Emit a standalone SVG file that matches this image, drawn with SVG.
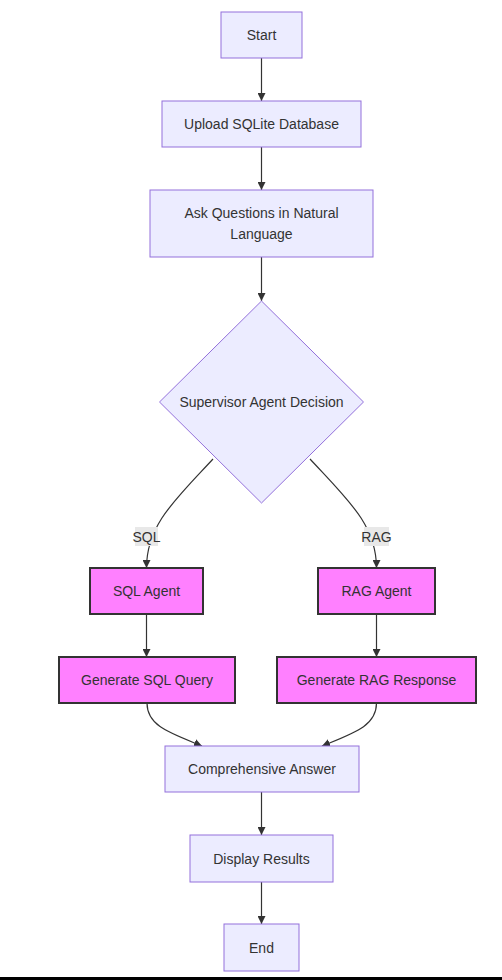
<svg xmlns="http://www.w3.org/2000/svg" width="502" height="980" viewBox="0 0 502 980">
<style>
text{font-family:"Liberation Sans",Arial,sans-serif;font-size:14px;fill:#333;text-anchor:middle;dominant-baseline:central}
.n rect,.n polygon{fill:#ECECFF;stroke:#9370DB;stroke-width:1}
.m rect{fill:#FF80FF;stroke:#333;stroke-width:2}
.e path{fill:none;stroke:#333;stroke-width:1.2}
.lbl rect{fill:#e8e8e8;stroke:none}
</style>
<defs>
<marker id="ah" viewBox="0 0 10 10" refX="10" refY="5" markerWidth="8" markerHeight="8" markerUnits="userSpaceOnUse" orient="auto">
<path d="M0,0 L10,5 L0,10 z" fill="#333"/>
</marker>
</defs>
<rect x="0" y="0" width="502" height="980" fill="#fff"/>
<g id="edges" class="e">
<path d="M261.5,58 L261.5,101" marker-end="url(#ah)"/>
<path d="M261.5,147 L261.5,190" marker-end="url(#ah)"/>
<path d="M261.5,257 L261.5,301" marker-end="url(#ah)"/>
<path d="M213,459 C175,500 146.5,525 146.5,568" marker-end="url(#ah)"/>
<path d="M310,459 C348,500 376.5,525 376.5,568" marker-end="url(#ah)"/>
<path d="M146.5,614 L146.5,657" marker-end="url(#ah)"/>
<path d="M376.5,614 L376.5,657" marker-end="url(#ah)"/>
<path d="M147,703 C147,726 170,733 202,746" marker-end="url(#ah)"/>
<path d="M376.5,703 C376.5,726 354,733 322,746" marker-end="url(#ah)"/>
<path d="M261.5,792 L261.5,835" marker-end="url(#ah)"/>
<path d="M261.5,882 L261.5,924" marker-end="url(#ah)"/>
</g>
<g id="edge-labels" class="lbl">
<g id="label-sql"><rect x="135" y="527" width="23" height="19"/><text x="146.5" y="536.5">SQL</text></g>
<g id="label-rag"><rect x="364" y="527" width="25" height="19"/><text x="376.5" y="536.5">RAG</text></g>
</g>
<g id="start" class="n"><rect x="221" y="12" width="81" height="46"/><text x="261.5" y="35">Start</text></g>
<g id="upload" class="n"><rect x="162" y="101" width="199" height="46"/><text x="261.5" y="124">Upload SQLite Database</text></g>
<g id="ask" class="n"><rect x="150" y="190" width="223" height="67"/><text x="261.5" y="213">Ask Questions in Natural</text><text x="261.5" y="234">Language</text></g>
<g id="supervisor" class="n"><polygon points="261.5,301 363.5,402 261.5,503 159.5,402"/><text x="261.5" y="402">Supervisor Agent Decision</text></g>
<g id="sql-agent" class="m"><rect x="90" y="568" width="113" height="46"/><text x="146.5" y="591">SQL Agent</text></g>
<g id="rag-agent" class="m"><rect x="318" y="568" width="117" height="46"/><text x="376.5" y="591">RAG Agent</text></g>
<g id="gen-sql" class="m"><rect x="59" y="657" width="176" height="46"/><text x="147" y="680">Generate SQL Query</text></g>
<g id="gen-rag" class="m"><rect x="277" y="657" width="199" height="46"/><text x="376.5" y="680">Generate RAG Response</text></g>
<g id="answer" class="n"><rect x="165" y="746" width="194" height="46"/><text x="262" y="769">Comprehensive Answer</text></g>
<g id="display" class="n"><rect x="190" y="835" width="143" height="47"/><text x="261.5" y="858.5">Display Results</text></g>
<g id="end" class="n"><rect x="224" y="924" width="75" height="47"/><text x="261.5" y="947.5">End</text></g>
<rect x="0" y="977" width="502" height="3" fill="#000"/>
</svg>
